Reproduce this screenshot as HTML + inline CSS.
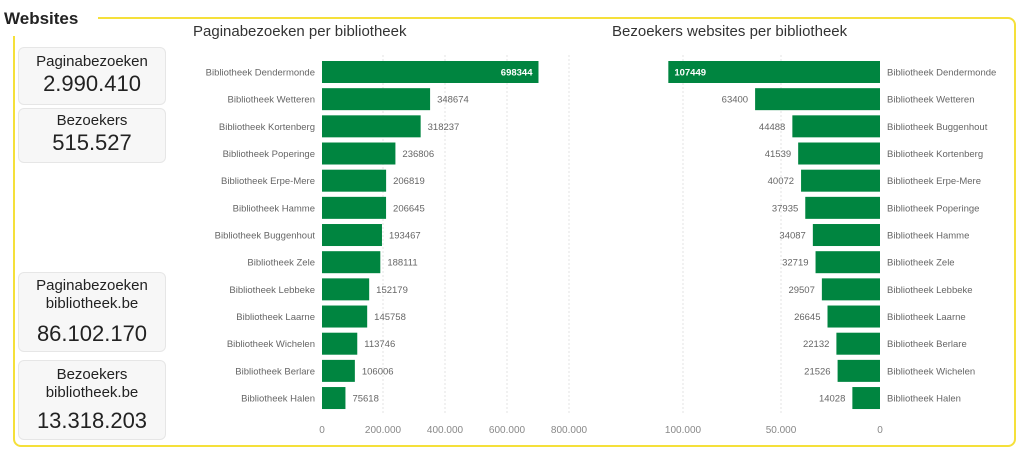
<!DOCTYPE html>
<html><head><meta charset="utf-8"><style>
body{margin:0;width:1024px;height:458px;background:#fff;font-family:"Liberation Sans",sans-serif;position:relative;overflow:hidden}
.frame{position:absolute;left:13px;top:17px;width:1003px;height:430px;border:2px solid #f5e03a;border-radius:8px;box-sizing:border-box}
.gap{position:absolute;left:0;top:0;width:98px;height:36px;background:#fff}
.h{position:absolute;left:4px;top:9px;font-weight:bold;font-size:17px;color:#222}
.card{position:absolute;left:18px;width:148px;background:#f7f7f7;border:1px solid #e6e6e6;border-radius:6px;text-align:center;color:#222;box-sizing:border-box}
.t{font-size:15px;line-height:18px}
.v{font-size:22px}
.ct{position:absolute;font-size:15px;color:#333;top:23px}
</style></head><body>
<div class="frame"></div><div class="gap"></div>
<div class="h">Websites</div>
<div class="card" style="top:47px;height:58px"><div class="t" style="margin-top:5px">Paginabezoeken</div><div class="v">2.990.410</div></div>
<div class="card" style="top:108px;height:55px"><div class="t" style="margin-top:3px">Bezoekers</div><div class="v">515.527</div></div>
<div class="card" style="top:272px;height:80px"><div class="t" style="margin-top:4px">Paginabezoeken<br>bibliotheek.be</div><div class="v" style="margin-top:8px">86.102.170</div></div>
<div class="card" style="top:360px;height:80px"><div class="t" style="margin-top:5px">Bezoekers<br>bibliotheek.be</div><div class="v" style="margin-top:6px">13.318.203</div></div>
<div class="ct" style="left:193px">Paginabezoeken per bibliotheek</div>
<div class="ct" style="left:612px">Bezoekers websites per bibliotheek</div>
<svg width="1024" height="458" style="position:absolute;left:0;top:0" font-family="Liberation Sans, sans-serif" font-size="9.5">
<g stroke="#e3e3e3" stroke-dasharray="2,2">
<line x1="383" y1="55" x2="383" y2="415"/><line x1="445" y1="55" x2="445" y2="415"/><line x1="507" y1="55" x2="507" y2="415"/><line x1="569" y1="55" x2="569" y2="415"/>
<line x1="683" y1="55" x2="683" y2="415"/><line x1="781" y1="55" x2="781" y2="415"/>
</g>
<g id="L" fill="#666"></g>
<g fill="#888" text-anchor="middle" font-size="10"><text x="322" y="433">0</text><text x="383" y="433">200.000</text><text x="445" y="433">400.000</text><text x="507" y="433">600.000</text><text x="569" y="433">800.000</text>
<text x="683" y="433">100.000</text><text x="781" y="433">50.000</text><text x="880" y="433">0</text></g>
</svg>
<script>
var L=[["Dendermonde",698344],["Wetteren",348674],["Kortenberg",318237],["Poperinge",236806],["Erpe-Mere",206819],["Hamme",206645],["Buggenhout",193467],["Zele",188111],["Lebbeke",152179],["Laarne",145758],["Wichelen",113746],["Berlare",106006],["Halen",75618]];
var R=[["Dendermonde",107449],["Wetteren",63400],["Buggenhout",44488],["Kortenberg",41539],["Erpe-Mere",40072],["Poperinge",37935],["Hamme",34087],["Zele",32719],["Lebbeke",29507],["Laarne",26645],["Berlare",22132],["Wichelen",21526],["Halen",14028]];
var s='';
for(var i=0;i<13;i++){var y=72+i*27.17;
var w=L[i][1]*0.00031;
s+='<rect x="322" y="'+(y-11)+'" width="'+w+'" height="22" fill="#008540"/>';
s+='<text x="315" y="'+(y+3.5)+'" text-anchor="end">Bibliotheek '+L[i][0]+'</text>';
if(i==0)s+='<text x="'+(322+w-6)+'" y="'+(y+3.5)+'" text-anchor="end" fill="#fff" font-weight="bold">'+L[i][1]+'</text>';
else s+='<text x="'+(322+w+7)+'" y="'+(y+3.5)+'">'+L[i][1]+'</text>';
var r=R[i][1]*0.00197;
s+='<rect x="'+(880-r)+'" y="'+(y-11)+'" width="'+r+'" height="22" fill="#008540"/>';
s+='<text x="887" y="'+(y+3.5)+'">Bibliotheek '+R[i][0]+'</text>';
if(i==0)s+='<text x="'+(880-r+6)+'" y="'+(y+3.5)+'" fill="#fff" font-weight="bold">'+R[i][1]+'</text>';
else s+='<text x="'+(880-r-7)+'" y="'+(y+3.5)+'" text-anchor="end">'+R[i][1]+'</text>';
}
document.getElementById('L').innerHTML=s;
</script>
</body></html>
